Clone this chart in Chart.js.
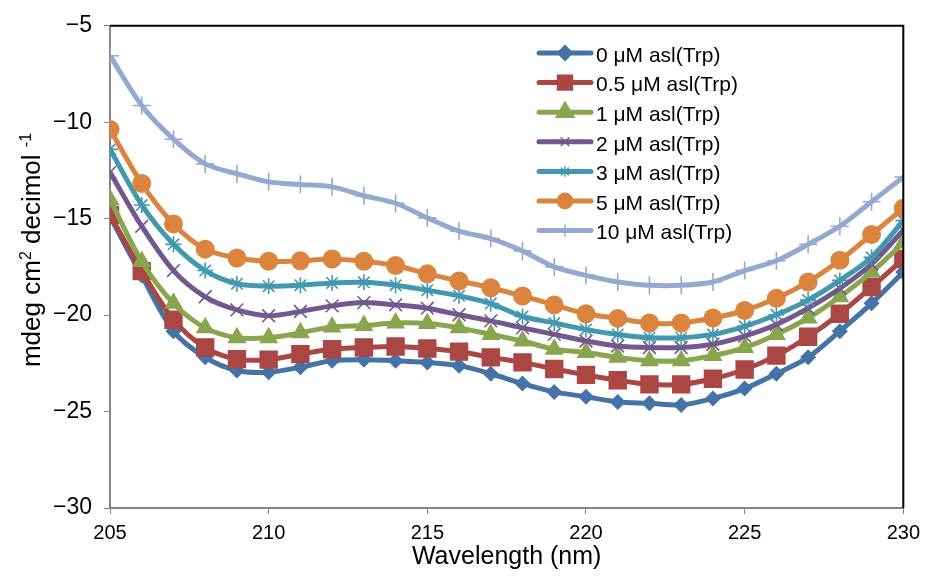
<!DOCTYPE html>
<html lang="en">
<head>
<meta charset="UTF-8">
<title>CD spectra</title>
<script src="https://cdn.jsdelivr.net/npm/chart.js@4"></script>
<style>
  html, body { margin: 0; padding: 0; background: #fff; }
  #wrap { position: relative; width: 927px; height: 577px; }
</style>
</head>
<body>
<div id="wrap"><canvas id="cd-chart" width="927" height="577"></canvas></div>
<script>
// wavelengths (nm)
const wavelengths = [205,206,207,208,209,210,211,212,213,214,215,216,217,218,219,220,221,222,223,224,225,226,227,228,229,230];

const seriesNames = ['0 μM asl(Trp)', '0.5 μM asl(Trp)', '1 μM asl(Trp)', '2 μM asl(Trp)', '3 μM asl(Trp)', '5 μM asl(Trp)', '10 μM asl(Trp)'];

const asl0   = [-14.9,-17.95,-20.83,-22.19,-22.87,-22.96,-22.7,-22.36,-22.31,-22.36,-22.45,-22.62,-23.04,-23.55,-23.98,-24.23,-24.5,-24.57,-24.66,-24.32,-23.81,-23.04,-22.19,-20.83,-19.39,-17.77];
const asl05  = [-14.8,-17.72,-20.24,-21.68,-22.28,-22.31,-22.02,-21.77,-21.68,-21.63,-21.73,-21.89,-22.19,-22.45,-22.79,-23.1,-23.38,-23.59,-23.59,-23.3,-22.82,-22.1,-21.12,-19.93,-18.54,-17.09];
const asl1   = [-14.0,-17.22,-19.39,-20.66,-21.17,-21.17,-20.92,-20.61,-20.54,-20.41,-20.44,-20.66,-21.0,-21.34,-21.77,-21.94,-22.19,-22.36,-22.36,-22.1,-21.68,-21.0,-20.15,-19.05,-17.77,-16.25];
const asl2   = [-12.6,-15.39,-17.69,-19.05,-19.73,-20.03,-19.81,-19.52,-19.35,-19.47,-19.64,-19.98,-20.3,-20.66,-21.0,-21.34,-21.6,-21.68,-21.68,-21.51,-21.09,-20.49,-19.64,-18.62,-17.35,-15.6];
const asl3   = [-11.4,-14.29,-16.33,-17.69,-18.37,-18.5,-18.45,-18.33,-18.3,-18.45,-18.71,-19.0,-19.4,-20.07,-20.41,-20.75,-21.0,-21.17,-21.17,-21.0,-20.58,-19.98,-19.22,-18.2,-17.0,-15.1];
const asl5   = [-10.37,-13.18,-15.27,-16.58,-17.04,-17.21,-17.18,-17.09,-17.21,-17.43,-17.86,-18.23,-18.58,-19.01,-19.47,-19.93,-20.17,-20.41,-20.41,-20.15,-19.76,-19.13,-18.28,-17.16,-15.82,-14.46];
const asl10  = [-6.55,-9.13,-10.88,-12.16,-12.67,-13.09,-13.23,-13.35,-13.81,-14.2,-14.96,-15.65,-16.03,-16.67,-17.5,-17.94,-18.28,-18.45,-18.45,-18.28,-17.69,-17.18,-16.33,-15.39,-14.12,-12.84];

const xTicks = [205, 210, 215, 220, 225, 230];
const yTicks = [-30, -25, -20, -15, -10, -5];

const allSeries = [asl0, asl05, asl1, asl2, asl3, asl5, asl10];
const colors = ['#4572A7', '#AA4643', '#89A54E', '#71588F', '#4198AF', '#DB843D', '#93A9CF'];
const markers = ['rectRot', 'rect', 'triangle', 'crossRot', 'star', 'circle', 'cross'];
const markerSizes = [8, 13, 11, 9, 8, 9.5, 9];
const filled = [true, true, true, false, false, true, false];

const FONT = '"Liberation Sans", Arial, sans-serif';

const datasets = allSeries.map((vals, i) => ({
  label: seriesNames[i],
  data: vals.map((v, k) => ({ x: wavelengths[k], y: v })),
  borderColor: colors[i],
  backgroundColor: colors[i],
  borderWidth: 5,
  tension: 0.3,
  pointStyle: markers[i],
  pointRadius: markerSizes[i],
  pointBorderWidth: filled[i] ? 0 : 1.6,
  pointBackgroundColor: colors[i],
  pointBorderColor: colors[i],
  order: allSeries.length - i
}));

// legend inside the plot, frame on top/right, y-axis title with superscripts
const extras = {
  id: 'extras',
  afterDraw(chart) {
    const ctx = chart.ctx;
    const a = chart.chartArea;
    ctx.save();
    datasets.forEach((ds, i) => {
      const y = 53 + i * 29.6;
      ctx.strokeStyle = ds.borderColor;
      ctx.lineWidth = 5;
      ctx.lineCap = 'round';
      ctx.beginPath();
      ctx.moveTo(539, y);
      ctx.lineTo(591, y);
      ctx.stroke();
      ctx.fillStyle = ds.borderColor;
      ctx.lineWidth = filled[i] ? 0 : 1.4;
      Chart.helpers.drawPoint(ctx, { pointStyle: ds.pointStyle, radius: ds.pointRadius * 0.62, borderWidth: ctx.lineWidth, rotation: 0 }, 565, y);
      ctx.fillStyle = '#000';
      ctx.font = '21px ' + FONT;
      ctx.textBaseline = 'middle';
      ctx.textAlign = 'left';
      ctx.fillText(ds.label, 596, y + 3);
    });

    ctx.strokeStyle = '#000';
    ctx.lineWidth = 2;
    ctx.lineCap = 'butt';
    ctx.beginPath();
    ctx.moveTo(a.left, a.top);
    ctx.lineTo(a.right, a.top);
    ctx.lineTo(a.right, a.bottom);
    ctx.stroke();

    // y title: "mdeg cm2 decimol -1" with superscripts
    const parts = [['mdeg cm', false], ['2', true], [' decimol ', false], ['-1', true]];
    const big = '26px ' + FONT, small = '16px ' + FONT;
    let total = 0;
    parts.forEach(p => { ctx.font = p[1] ? small : big; total += ctx.measureText(p[0]).width; });
    ctx.translate(40, 250 + total / 2);
    ctx.rotate(-Math.PI / 2);
    ctx.fillStyle = '#000';
    ctx.textBaseline = 'alphabetic';
    ctx.textAlign = 'left';
    let x = 0;
    parts.forEach(p => {
      ctx.font = p[1] ? small : big;
      ctx.fillText(p[0], x, p[1] ? -9 : 0);
      x += ctx.measureText(p[0]).width;
    });
    ctx.restore();
  }
};

const ctx = document.getElementById('cd-chart').getContext('2d');
new Chart(ctx, {
  type: 'line',
  data: { datasets },
  options: {
    responsive: false,
    animation: false,
    layout: { padding: { top: 18, right: 23, left: 0, bottom: 0 } },
    plugins: { legend: { display: false }, tooltip: { enabled: false } },
    scales: {
      x: {
        type: 'linear',
        min: 205, max: 230,
        afterBuildTicks: s => { s.ticks = xTicks.map(v => ({ value: v })); },
        afterFit: s => { s.height = 69; },
        grid: { drawOnChartArea: false, tickLength: 6, color: '#868686', lineWidth: 1 },
        border: { color: '#868686', width: 2 },
        ticks: { color: '#000', font: { family: FONT, size: 20 }, padding: 7, maxRotation: 0 },
        title: { display: true, text: 'Wavelength (nm)', color: '#000', font: { family: FONT, size: 25 }, padding: { top: 0, bottom: 5 } }
      },
      y: {
        min: -30, max: -5,
        afterBuildTicks: s => { s.ticks = yTicks.map(v => ({ value: v })); },
        afterFit: s => { s.width = 110; },
        grid: { drawOnChartArea: false, tickLength: 6, color: '#868686', lineWidth: 1 },
        border: { color: '#868686', width: 2 },
        ticks: {
          color: '#000', font: { family: FONT, size: 23 }, padding: 12,
          callback: v => String(v).replace('-', '\u2212')
        }
      }
    }
  },
  plugins: [extras]
});
</script>
</body>
</html>
